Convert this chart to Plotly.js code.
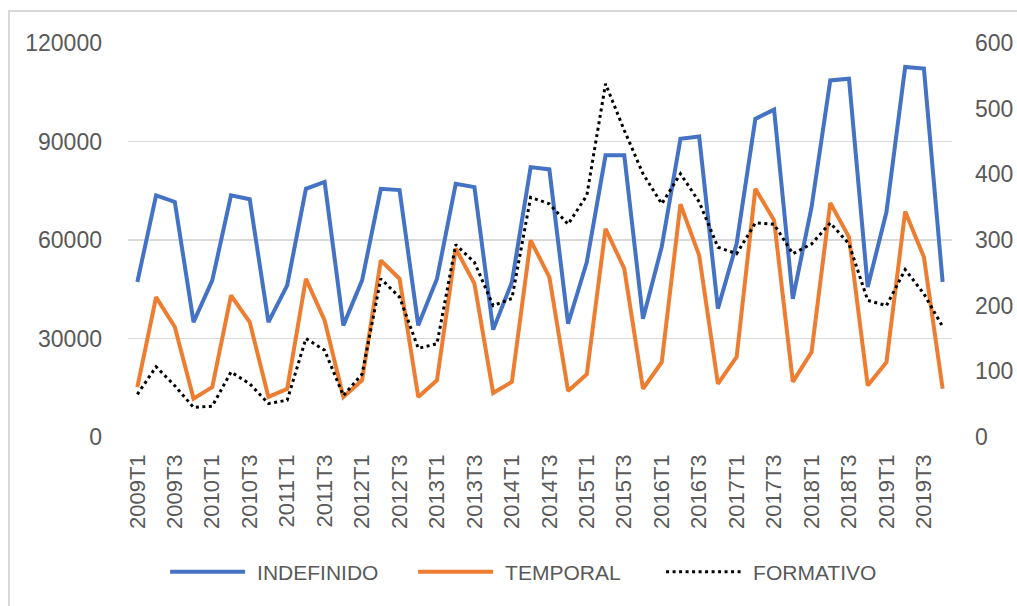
<!DOCTYPE html>
<html>
<head>
<meta charset="utf-8">
<script src="https://cdn.plot.ly/plotly-3.0.1.min.js"></script>
<style>
html,body{margin:0;padding:0;width:1017px;height:606px;overflow:hidden;background:#fff;}
#frame{position:absolute;left:8px;top:10px;width:1100px;height:700px;border:2px solid #d9d9d9;box-sizing:border-box;}
#chart{position:absolute;left:0;top:0;width:1017px;height:606px;}
</style>
</head>
<body>
<div id="frame"></div>
<div id="chart"></div>
<script>
const quarters = [
 "2009T1","2009T2","2009T3","2009T4","2010T1","2010T2","2010T3","2010T4",
 "2011T1","2011T2","2011T3","2011T4","2012T1","2012T2","2012T3","2012T4",
 "2013T1","2013T2","2013T3","2013T4","2014T1","2014T2","2014T3","2014T4",
 "2015T1","2015T2","2015T3","2015T4","2016T1","2016T2","2016T3","2016T4",
 "2017T1","2017T2","2017T3","2017T4","2018T1","2018T2","2018T3","2018T4",
 "2019T1","2019T2","2019T3","2019T4"];
const tickLabels = ["2009T1","2009T3","2010T1","2010T3","2011T1","2011T3","2012T1","2012T3",
 "2013T1","2013T3","2014T1","2014T3","2015T1","2015T3","2016T1","2016T3",
 "2017T1","2017T3","2018T1","2018T3","2019T1","2019T3"];
const indefinido = [47200,73600,71600,35000,47700,73600,72400,35000,46200,75600,77700,34000,
 47700,75600,75200,34000,48200,77100,76100,32700,47200,82200,81500,34500,53300,85800,85800,36000,
 57900,90800,91500,39100,58900,96900,99700,42100,70000,108600,109100,45700,68500,112700,112200,47200];
const temporal = [15200,42600,33500,11700,15200,43100,35000,12200,14700,48200,35500,12200,
 17300,53800,48200,12200,17300,57400,46700,13400,16800,59900,48700,14000,19100,63400,51300,14700,
 22800,70900,55300,16200,24400,75600,66000,16800,25900,71300,60900,15700,22800,68700,54800,14700];
const formativo = [65,107,78,45,47,99,81,51,56,150,132,63,96,241,213,135,142,293,266,200,
 211,365,355,324,368,538,467,401,355,401,358,289,279,326,324,279,294,326,294,208,200,255,218,168];

const FONT = "Liberation Sans, Arial, sans-serif";
const GREY = "#595959";
const traces = [
 {x:quarters, y:indefinido, name:"INDEFINIDO", type:"scatter", mode:"lines",
  line:{color:"#4472C4", width:4}},
 {x:quarters, y:temporal, name:"TEMPORAL", type:"scatter", mode:"lines",
  line:{color:"#ED7D31", width:4}},
 {x:quarters, y:formativo, name:"FORMATIVO", type:"scatter", mode:"lines", yaxis:"y2",
  line:{color:"#000000", width:3, dash:"3px,3.5px"}}
];
const layout = {
 width:1017, height:606,
 margin:{l:128, r:65, t:43, b:169, autoexpand:false},
 paper_bgcolor:"rgba(0,0,0,0)", plot_bgcolor:"rgba(0,0,0,0)",
 showlegend:true,
 xaxis:{type:"category", range:[-0.5, quarters.length-0.5], tickmode:"array",
   tickvals:tickLabels, ticktext:tickLabels, tickangle:-90, showgrid:false, zeroline:false,
   showline:false, ticks:"", automargin:false,
   tickfont:{family:FONT, size:22, color:GREY}, ticklabelstandoff:12},
 yaxis:{range:[0,120000], dtick:30000, tickformat:"d", showgrid:true, gridcolor:"#d9d9d9",
   gridwidth:1.5, zeroline:false, showline:false, ticks:"", automargin:false,
   tickfont:{family:FONT, size:23, color:GREY}, ticklabelstandoff:25},
 yaxis2:{range:[0,600], dtick:100, overlaying:"y", side:"right", showgrid:false, zeroline:false,
   showline:false, ticks:"", automargin:false,
   tickfont:{family:FONT, size:23, color:GREY}, ticklabelstandoff:22},
 legend:{orientation:"h", x:0.045, xanchor:"left", y:-0.343, yanchor:"middle",
   font:{family:FONT, size:21, color:GREY},
   entrywidth:158, entrywidthmode:"pixels", itemwidth:75, bgcolor:"rgba(0,0,0,0)"}
};
Plotly.newPlot("chart", traces, layout, {staticPlot:true, displayModeBar:false}).then(function(gd){
  gd.querySelectorAll(".legendtext").forEach(function(t){
    const x = parseFloat(t.getAttribute("x") || "0");
    t.setAttribute("x", x + 7);
  });
});
</script>
</body>
</html>
